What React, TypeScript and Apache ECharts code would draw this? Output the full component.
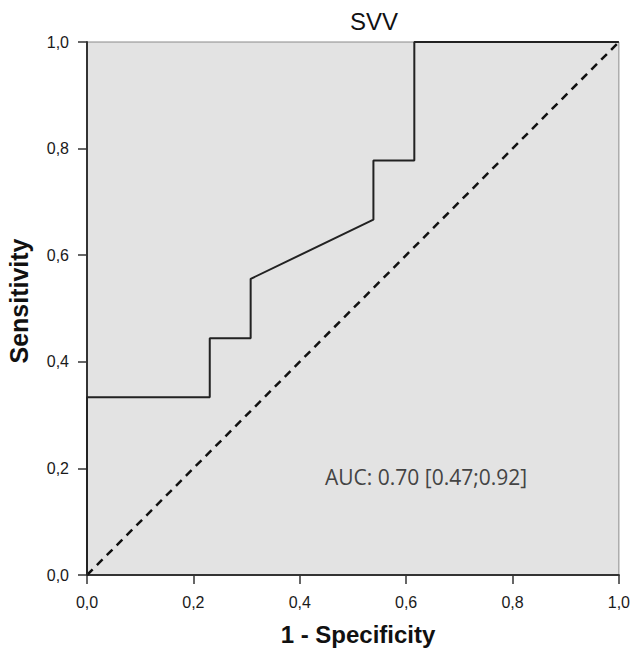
import React, { useEffect, useRef } from "react";
import * as echarts from "echarts";

const rocX = [0, 0, 0.2308, 0.2308, 0.3077, 0.3077, 0.5385, 0.5385, 0.6154, 0.6154, 1];
const rocY = [0, 0.3333, 0.3333, 0.4444, 0.4444, 0.5556, 0.6667, 0.7778, 0.7778, 1, 1];
const diagX = [0, 1];
const diagY = [0, 1];
const tickValues = [0, 0.2, 0.4, 0.6, 0.8, 1.0];
const titleText = "SVV";
const xTitle = "1 - Specificity";
const yTitle = "Sensitivity";
const aucText = "AUC: 0.70 [0.47;0.92]";

const fmt = (v: number) => v.toFixed(1).replace(".", ",");

export default function App() {
  const ref = useRef<HTMLDivElement>(null);
  useEffect(() => {
    if (!ref.current) return;
    const chart = echarts.init(ref.current, null, { renderer: "svg" });
    const axisCommon = {
      type: "value" as const,
      min: tickValues[0],
      max: tickValues[tickValues.length - 1],
      interval: 0.2,
      splitLine: { show: false },
      axisLine: { show: true, onZero: false, lineStyle: { color: "#333", width: 2 } },
      axisTick: { show: true, inside: false, length: 9, lineStyle: { color: "#333", width: 1.5 } },
      axisLabel: {
        formatter: (v: number) => fmt(v),
        color: "#1a1a1a",
        fontFamily: "Liberation Sans",
        fontSize: 16,
      },
    };
    chart.setOption({
      animation: false,
      backgroundColor: "#ffffff",
      grid: {
        left: 87,
        right: 11,
        top: 42,
        bottom: 74,
        show: true,
        backgroundColor: "#e3e3e3",
        borderColor: "#8a8a8a",
        borderWidth: 1,
      },
      xAxis: { ...axisCommon, axisLabel: { ...axisCommon.axisLabel, margin: 19 } },
      yAxis: { ...axisCommon, axisLabel: { ...axisCommon.axisLabel, margin: 18 } },
      series: [
        {
          type: "line",
          data: diagX.map((x, i) => [x, diagY[i]]),
          showSymbol: false,
          symbol: "none",
          lineStyle: { color: "#111", width: 2.5, type: [8, 6] },
          z: 2,
        },
        {
          type: "line",
          data: rocX.map((x, i) => [x, rocY[i]]),
          showSymbol: false,
          symbol: "none",
          lineStyle: { color: "#222", width: 2 },
          z: 3,
        },
      ],
      graphic: [
        {
          type: "text",
          x: 374,
          y: 21,
          style: {
            text: titleText,
            fontFamily: "Liberation Sans",
            fontSize: 24,
            fill: "#111",
            align: "center",
            verticalAlign: "middle",
          },
        },
        {
          type: "text",
          x: 358,
          y: 634,
          style: {
            text: xTitle,
            fontFamily: "Liberation Sans",
            fontWeight: "bold",
            fontSize: 24,
            fill: "#111",
            align: "center",
            verticalAlign: "middle",
          },
        },
        {
          type: "text",
          x: 19,
          y: 301,
          rotation: Math.PI / 2,
          style: {
            text: yTitle,
            fontFamily: "Liberation Sans",
            fontWeight: "bold",
            fontSize: 25,
            fill: "#111",
            align: "center",
            verticalAlign: "middle",
          },
        },
        {
          type: "text",
          x: 325,
          y: 477,
          style: {
            text: aucText,
            fontFamily: "Open Sans",
            fontSize: 21,
            fill: "#444",
            align: "left",
            verticalAlign: "middle",
          },
        },
      ],
    });
    return () => chart.dispose();
  }, []);
  return (
    <div
      ref={ref}
      style={{ position: "fixed", left: 0, top: 0, width: 633, height: 649 }}
    />
  );
}
